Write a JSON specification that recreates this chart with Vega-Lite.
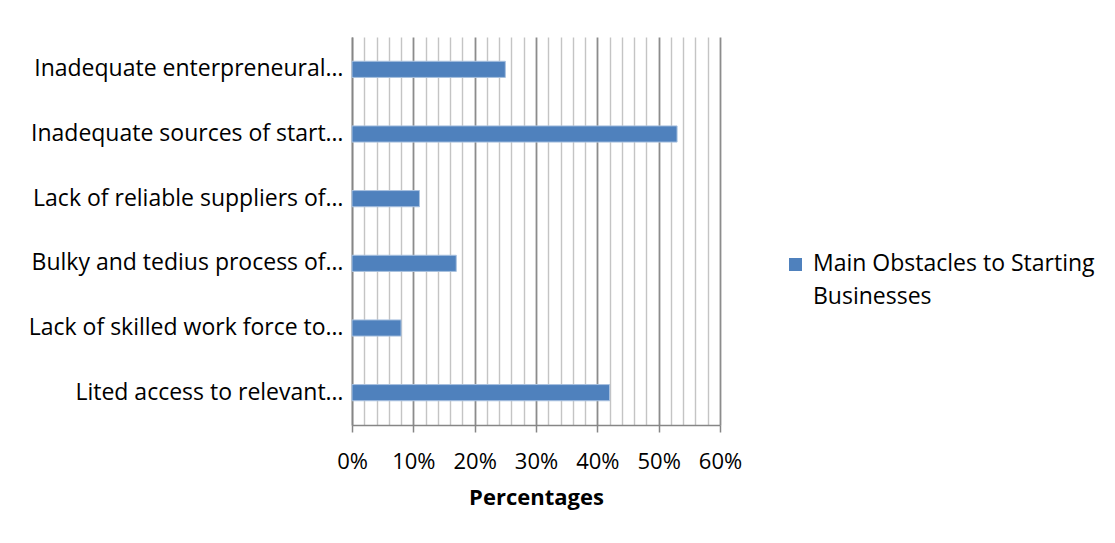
{
  "$schema": "https://vega.github.io/schema/vega-lite/v6.json",
  "width": 368,
  "height": 388,
  "autosize": {"type": "none"},
  "padding": {"left": 352, "top": 37, "right": 395, "bottom": 118},
  "background": "white",
  "config": {
    "font": "Open Sans",
    "view": {"stroke": null},
    "style": {"guide-label": {"lineHeight": 33, "dy": -12}}
  },
  "data": {
    "values": [
      {"obstacle": "Inadequate enterpreneural…", "share": 0.25, "series": "Main Obstacles to Starting Businesses"},
      {"obstacle": "Inadequate sources of start…", "share": 0.53, "series": "Main Obstacles to Starting Businesses"},
      {"obstacle": "Lack of reliable suppliers of…", "share": 0.11, "series": "Main Obstacles to Starting Businesses"},
      {"obstacle": "Bulky and tedius process of…", "share": 0.17, "series": "Main Obstacles to Starting Businesses"},
      {"obstacle": "Lack of skilled work force to…", "share": 0.08, "series": "Main Obstacles to Starting Businesses"},
      {"obstacle": "Lited access to relevant…", "share": 0.42, "series": "Main Obstacles to Starting Businesses"}
    ]
  },
  "mark": {"type": "bar", "stroke": "#a9c1df", "strokeWidth": 1},
  "encoding": {
    "y": {
      "field": "obstacle",
      "type": "nominal",
      "sort": null,
      "scale": {"paddingInner": 0.75, "paddingOuter": 0.375},
      "axis": {
        "title": null,
        "ticks": false,
        "domainColor": "#868686",
        "domainWidth": 1.5,
        "labelFontSize": 23,
        "labelColor": "#000000",
        "labelPadding": 9,
        "labelOffset": 12,
        "labelLimit": 0
      }
    },
    "x": {
      "field": "share",
      "type": "quantitative",
      "scale": {"domain": [0, 0.6], "nice": false},
      "axis": {
        "title": "Percentages",
        "titleFontSize": 22,
        "titleFontWeight": "bold",
        "titleColor": "#000000",
        "titlePadding": 15,
        "values": [0, 0.02, 0.04, 0.06, 0.08, 0.1, 0.12, 0.14, 0.16, 0.18, 0.2, 0.22, 0.24, 0.26, 0.28, 0.3, 0.32, 0.34, 0.36, 0.38, 0.4, 0.42, 0.44, 0.46, 0.48, 0.5, 0.52, 0.54, 0.56, 0.58, 0.6],
        "labelExpr": "round(datum.value * 100) % 10 == 0 ? format(datum.value, '.0%') : ''",
        "labelFontSize": 22,
        "labelColor": "#000000",
        "labelPadding": 31,
        "labelOverlap": false,
        "labelFlush": false,
        "tickSize": 7,
        "tickColor": "#868686",
        "tickWidth": 1.5,
        "tickOpacity": {"condition": {"test": "round(datum.value * 100) % 10 == 0", "value": 1}, "value": 0},
        "domainColor": "#868686",
        "domainWidth": 1.5,
        "grid": true,
        "gridColor": {"condition": {"test": "round(datum.value * 100) % 10 == 0", "value": "#8c8c8c"}, "value": "#c4c4c4"},
        "gridWidth": {"condition": {"test": "round(datum.value * 100) % 10 == 0", "value": 1.8}, "value": 1.4}
      }
    },
    "color": {
      "field": "series",
      "type": "nominal",
      "scale": {"range": ["#4f81bd"]},
      "legend": {
        "title": null,
        "orient": "none",
        "legendX": 432,
        "legendY": 216,
        "symbolType": "square",
        "symbolSize": 170,
        "symbolStrokeWidth": 0,
        "labelFontSize": 23,
        "labelColor": "#000000",
        "labelLimit": 0,
        "labelOffset": 6,
        "labelBaseline": "top",
        "labelExpr": "['Main Obstacles to Starting', 'Businesses']"
      }
    }
  }
}
